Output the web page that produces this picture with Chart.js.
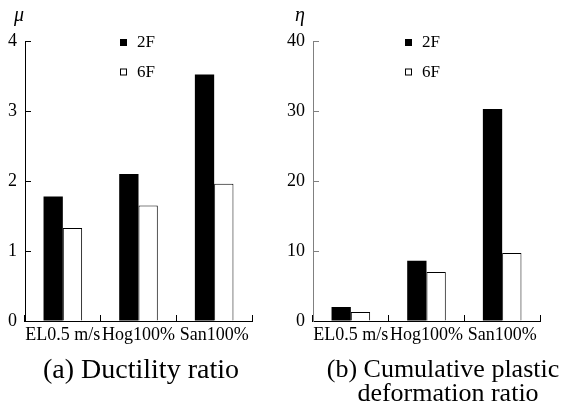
<!DOCTYPE html>
<html>
<head>
<meta charset="utf-8">
<script src="https://cdn.jsdelivr.net/npm/chart.js@4.4.1/dist/chart.umd.min.js"></script>
<style>
    body { margin: 0; background: #fff; }
    #page { position: relative; width: 566px; height: 414px; overflow: hidden; background: #fff; }
    canvas { position: absolute; top: 0; }
    .label { position: absolute; font-family: "Liberation Serif", serif; color: #000; white-space: nowrap; }
    .axisSymbol { font-style: italic; font-size: 20px; line-height: 20px; }
    .caption { line-height: 30px; text-align: center; transform: translateX(-50%); }
</style>
</head>
<body>
<div id="page">
    <canvas id="ductility" width="283" height="414" style="left:0"></canvas>
    <canvas id="cumulative" width="283" height="414" style="left:283px"></canvas>

    <div class="label axisSymbol" style="left:14px; top:4px">μ</div>
    <div class="label axisSymbol" style="left:295px; top:4px">η</div>

    <div class="label caption" style="left:141px; top:354px; font-size:28px">(a) Ductility ratio</div>
    <div class="label caption" style="left:443px; top:354px; font-size:26px">(b) Cumulative plastic</div>
    <div class="label caption" style="left:448px; top:378px; font-size:26px">deformation ratio</div>
</div>
<script>
// values
const categories = ['EL0.5 m/s', 'Hog100%', 'San100%']
const seriesNames = ['2F', '6F']

const ductility2F = [1.78, 2.10, 3.52]
const ductility6F = [1.33, 1.65, 1.96]

const cumulative2F = [2.0, 8.6, 30.3]
const cumulative6F = [1.3, 7.0, 9.7]

const ductilityTicks = [0, 1, 2, 3, 4]
const cumulativeTicks = [0, 10, 20, 30, 40]

const serif = 'Liberation Serif'

// small legend in the top of the plot, two rows
const cornerLegend = {
    id: 'cornerLegend',
    afterDraw(chart, args, options) {
        const { ctx, chartArea } = chart
        ctx.save()
        ctx.font = '17px "' + serif + '"'
        ctx.textBaseline = 'middle'
        ctx.fillStyle = '#000'
        chart.data.datasets.forEach((ds, i) => {
            const x = chartArea.left + options.offsetX
            const y = chartArea.top - 2 + i * 29.5
            if (ds.backgroundColor === '#000000') {
                ctx.fillStyle = '#000'
                ctx.fillRect(x, y, 7, 7)
            } else {
                ctx.strokeStyle = '#000'
                ctx.lineWidth = 1
                ctx.strokeRect(x + 0.5, y + 0.5, 6, 6)
            }
            ctx.fillStyle = '#000'
            ctx.fillText(ds.label, x + 17, y + 4)
        })
        ctx.restore()
    }
}

function buildPanel(canvasId, first, second, tickValues, opts) {
    return new Chart(document.getElementById(canvasId), {
        type: 'bar',
        data: {
            labels: categories,
            datasets: [
                {
                    label: seriesNames[0],
                    data: first,
                    backgroundColor: '#000000',
                    borderWidth: 0
                },
                {
                    label: seriesNames[1],
                    data: second,
                    backgroundColor: '#ffffff',
                    borderColor: '#000000',
                    borderWidth: 1
                }
            ]
        },
        options: {
            responsive: false,
            animation: false,
            devicePixelRatio: 1,
            layout: {
                padding: { top: 41, right: opts.padRight, bottom: 53, left: 0 }
            },
            datasets: {
                bar: { categoryPercentage: 0.51, barPercentage: 1.0 }
            },
            plugins: {
                legend: { display: false },
                tooltip: { enabled: false },
                cornerLegend: { offsetX: opts.legendX }
            },
            scales: {
                x: {
                    offset: true,
                    grid: {
                        offset: true,
                        drawOnChartArea: false,
                        tickLength: -6,
                        color: '#000'
                    },
                    border: { color: '#000', width: 1 },
                    ticks: {
                        autoSkip: false,
                        maxRotation: 0,
                        padding: 9,
                        color: '#000',
                        font: { family: serif, size: 18 }
                    },
                    afterFit(scale) { scale.height = 40 }
                },
                y: {
                    min: tickValues[0],
                    max: tickValues[tickValues.length - 1],
                    afterBuildTicks(scale) {
                        scale.ticks = tickValues.map(v => ({ value: v }))
                    },
                    grid: {
                        drawOnChartArea: false,
                        tickLength: -6,
                        color: opts.axisColor
                    },
                    border: { color: opts.axisColor, width: 1 },
                    ticks: {
                        padding: 14,
                        color: '#000',
                        font: { family: serif, size: 18 }
                    },
                    afterFit(scale) { scale.width = opts.axisWidth }
                }
            }
        },
        plugins: [cornerLegend]
    })
}

buildPanel('ductility', ductility2F, ductility6F, ductilityTicks,
    { padRight: 31, axisWidth: 25, axisColor: '#000', legendX: 95 })

buildPanel('cumulative', cumulative2F, cumulative6F, cumulativeTicks,
    { padRight: 26, axisWidth: 30, axisColor: '#808080', legendX: 92 })
</script>
</body>
</html>
